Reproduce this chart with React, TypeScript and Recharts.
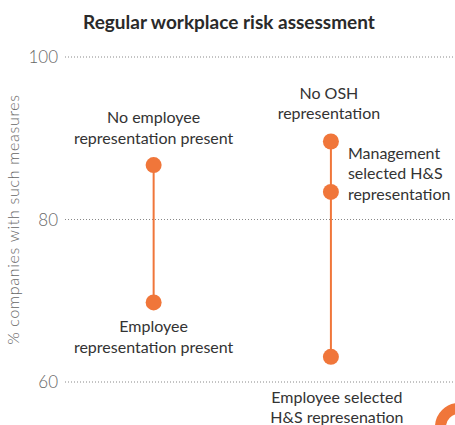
import React from "react";
import { ComposedChart, Scatter, XAxis, YAxis, CartesianGrid, Customized } from "recharts";

const title = "Regular workplace risk assessment";
const yAxisTitle = "% companies with such measures";
const yTicks = [60, 80, 100];

// Group 1: employee representation present vs not
const groupAValues = [86.7, 69.8];
const groupALabels = [["No employee", "representation present"], ["Employee", "representation present"]];

// Group 2: OSH representation types
const groupBValues = [89.6, 83.4, 63.1];
const groupBLabels = [
  ["No OSH", "representation"],
  ["Management", "selected H&S", "representation"],
  ["Employee selected", "H&S represenation"],
];

const ORANGE = "#F0763A";
const FONT = "Lato, 'Open Sans', sans-serif";

// label placement styles (offsets relative to each dot)
const placeA = [
  { anchor: "middle", dx: 0, dy: -42 },
  { anchor: "middle", dx: 0, dy: 30 },
];
const placeB = [
  { anchor: "middle", dx: -2, dy: -43 },
  { anchor: "start", dx: 17, dy: -33 },
  { anchor: "middle", dx: 6, dy: 46 },
];

const dataA = groupAValues.map((v, i) => ({ x: 1, y: v, lines: groupALabels[i], place: placeA[i] }));
const dataB = groupBValues.map((v, i) => ({ x: 2, y: v, lines: groupBLabels[i], place: placeB[i] }));

const Dot = (props: any) => {
  const { cx, cy, payload } = props;
  const p = payload.place;
  return (
    <g>
      <circle cx={cx} cy={cy} r={8} fill={ORANGE} />
      <text
        x={cx + p.dx}
        y={cy + p.dy}
        textAnchor={p.anchor}
        fontFamily={FONT}
        fontSize={16}
        fill="#333"
      >
        {payload.lines.map((l: string, i: number) => (
          <tspan key={i} x={cx + p.dx} dy={i === 0 ? 0 : 20.5}>
            {l}
          </tspan>
        ))}
      </text>
    </g>
  );
};

const Decor = () => (
  <g>
    <text x={229} y={29} textAnchor="middle" fontFamily={FONT} fontWeight={700} fontSize={19} fill="#2a2a2a">
      {title}
    </text>
    <circle cx={459} cy={427} r={18.5} fill="none" stroke={ORANGE} strokeWidth={11} />
  </g>
);

export default function App() {
  return (
    <div style={{ position: "absolute", left: 0, top: 0, background: "#fff" }}>
      <ComposedChart width={455} height={425} margin={{ top: 57, right: 0, bottom: 43, left: 0 }}>
        <CartesianGrid vertical={false} stroke="#888" strokeDasharray="1 2" />
        <XAxis type="number" dataKey="x" domain={[0.5, 2.7]} hide allowDataOverflow />
        <YAxis
          type="number"
          dataKey="y"
          domain={[60, 100]}
          ticks={yTicks}
          width={65}
          axisLine={false}
          tickLine={false}
          tickSize={0}
          tickMargin={7}
          tick={{ fontFamily: FONT, fontSize: 17, fill: "#666", fontWeight: 300 }}
          label={{
            value: yAxisTitle,
            angle: -90,
            position: "center",
            dx: -19,
            style: { fontFamily: FONT, fontSize: 16, fill: "#666", fontWeight: 300, letterSpacing: 0.7 },
          }}
        />
        <Scatter
          data={dataA}
          line={{ stroke: ORANGE, strokeWidth: 2 }}
          lineType="joint"
          shape={Dot}
          isAnimationActive={false}
        />
        <Scatter
          data={dataB}
          line={{ stroke: ORANGE, strokeWidth: 2 }}
          lineType="joint"
          shape={Dot}
          isAnimationActive={false}
        />
        <Customized component={Decor} />
      </ComposedChart>
    </div>
  );
}
